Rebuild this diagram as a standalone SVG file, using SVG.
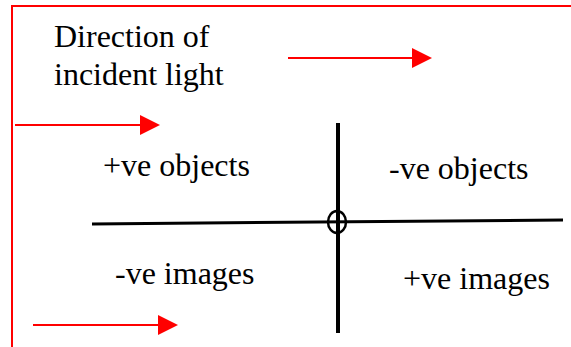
<svg xmlns="http://www.w3.org/2000/svg" width="571" height="347" viewBox="0 0 571 347">
<style>
.t{font-family:"Liberation Serif","Times New Roman",serif;font-size:32px;fill:#000}
.red{stroke:#ff0000;stroke-width:2;fill:none}
.ax{stroke:#000;fill:none}
</style>
<defs>
<marker id="ah" markerWidth="20" markerHeight="20" viewBox="0 0 20 20" refX="0" refY="10" orient="auto" markerUnits="userSpaceOnUse">
<path d="M0,0 L20,10 L0,20 Z" fill="#ff0000"/>
</marker>
</defs>
<g id="frame">
<path class="red" d="M12,347 L12,6 L571,6"/>
</g>
<g id="label-direction">
<text class="t" x="54" y="47">Direction of</text>
<text class="t" x="54" y="85">incident light</text>
</g>
<g id="connectors">
<line class="red" x1="288" y1="58" x2="412" y2="58" marker-end="url(#ah)"/>
<line class="red" x1="15" y1="125" x2="140" y2="125" marker-end="url(#ah)"/>
<line class="red" x1="33" y1="325" x2="158" y2="325" marker-end="url(#ah)"/>
<line class="ax" stroke-width="3" x1="92" y1="224" x2="563" y2="220"/>
<line class="ax" stroke-width="4" x1="338" y1="123" x2="338" y2="333"/>
</g>
<g id="origin">
<ellipse cx="337" cy="222" rx="9" ry="11" fill="none" stroke="#000" stroke-width="2.5"/>
</g>
<g id="q1"><text class="t" x="103" y="176">+ve objects</text></g>
<g id="q2"><text class="t" x="389" y="179">-ve objects</text></g>
<g id="q3"><text class="t" x="115" y="284">-ve images</text></g>
<g id="q4"><text class="t" x="403" y="289">+ve images</text></g>
</svg>
